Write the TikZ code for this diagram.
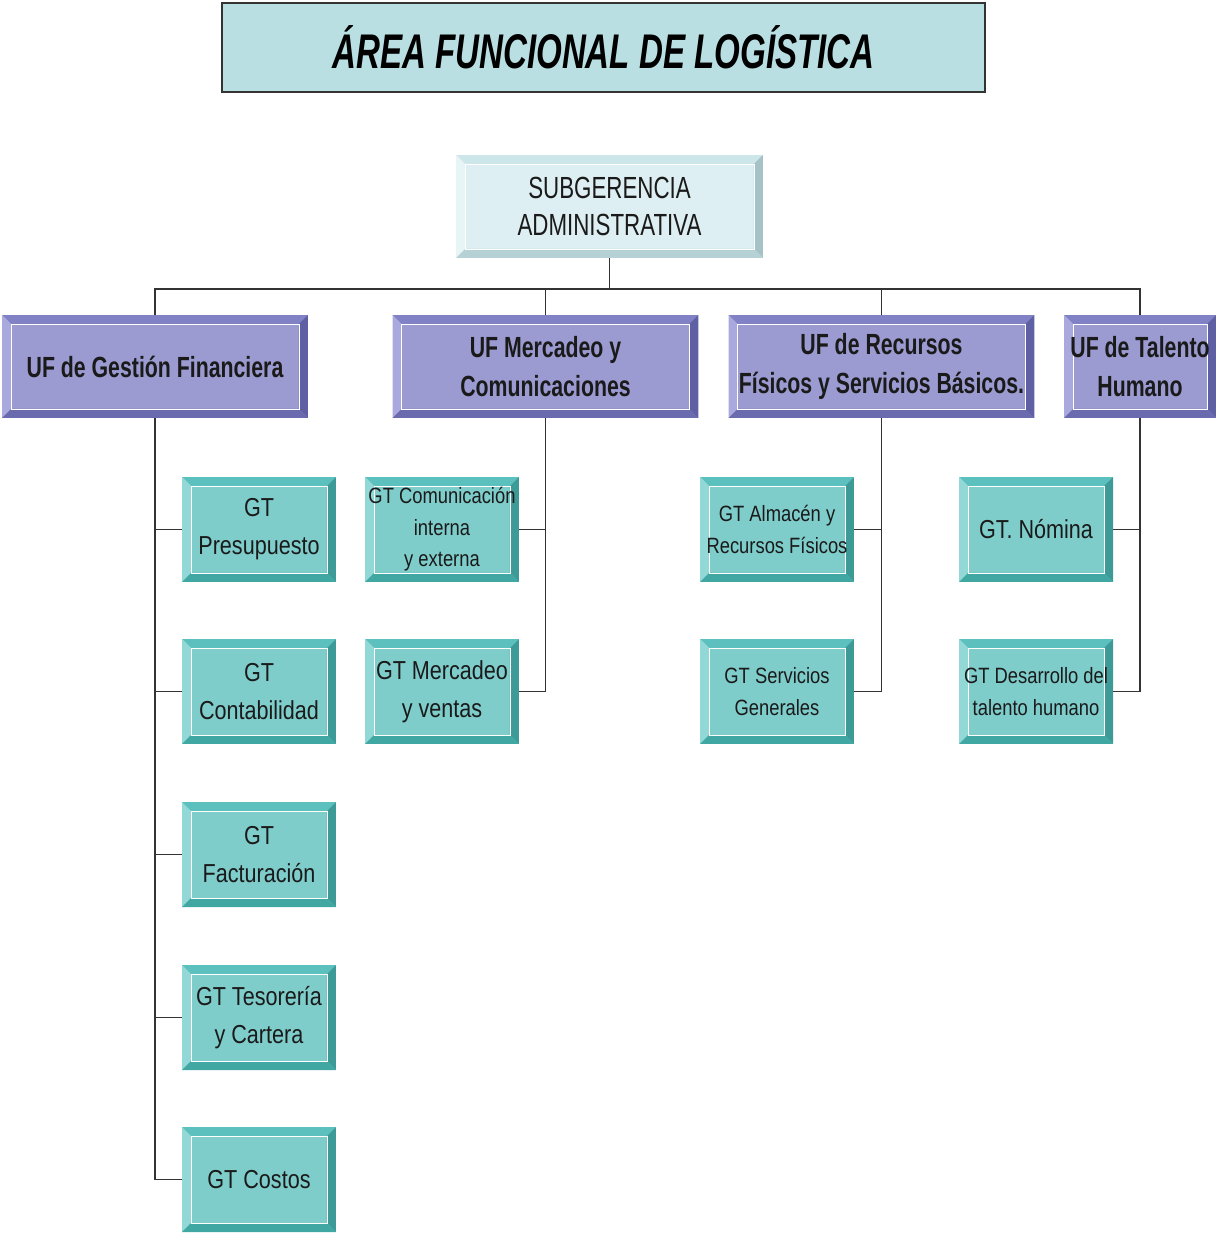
\documentclass[tikz,border=0pt]{standalone}
\usepackage{fontspec}
\setmainfont{Liberation Sans}
\newfontfamily\gtfont{Liberation Sans}[FakeStretch=0.83]
\newfontfamily\uffont{Liberation Sans}[FakeStretch=0.73]
\newfontfamily\ttlfont{Liberation Sans}[FakeStretch=0.68]
\usepackage{tikz}
\usetikzlibrary{positioning,calc}

\definecolor{ttlfill}{HTML}{B9DFE3}
\definecolor{subface}{HTML}{DDEFF2}
\definecolor{subtop}{HTML}{CDE6EA}
\definecolor{subleft}{HTML}{E8F5F7}
\definecolor{subright}{HTML}{A5C2C6}
\definecolor{subbot}{HTML}{B5D1D5}
\definecolor{ufface}{HTML}{9B9BD2}
\definecolor{uftop}{HTML}{8181C6}
\definecolor{ufleft}{HTML}{A9A9DD}
\definecolor{ufright}{HTML}{5F5FA3}
\definecolor{ufbot}{HTML}{6A6AAF}
\definecolor{gtface}{HTML}{7ECDCB}
\definecolor{gttop}{HTML}{5CC0BE}
\definecolor{gtleft}{HTML}{92D8D6}
\definecolor{gtright}{HTML}{3E9A96}
\definecolor{gtbot}{HTML}{40A7A2}
\definecolor{linecol}{HTML}{333333}
\definecolor{txtcol}{HTML}{1A1A1A}

\begin{document}
\begin{tikzpicture}[x=0.02cm, y=-0.02cm,
    bevel/.style n args={5}{fill=#1, draw=none, inner sep=0pt, align=center, text=txtcol,
      path picture={
        \path (path picture bounding box.north west) coordinate (bNW)
              (path picture bounding box.north east) coordinate (bNE)
              (path picture bounding box.south east) coordinate (bSE)
              (path picture bounding box.south west) coordinate (bSW);
        \path ([shift={(0.18cm,-0.18cm)}]bNW) coordinate (iNW)
              ([shift={(-0.18cm,-0.18cm)}]bNE) coordinate (iNE)
              ([shift={(-0.18cm,0.18cm)}]bSE) coordinate (iSE)
              ([shift={(0.18cm,0.18cm)}]bSW) coordinate (iSW);
        \fill[#2] (bNW) -- (bNE) -- (iNE) -- (iNW) -- cycle;
        \fill[#3] (bNW) -- (iNW) -- (iSW) -- (bSW) -- cycle;
        \fill[#4] (bNE) -- (bSE) -- (iSE) -- (iNE) -- cycle;
        \fill[#5] (bSW) -- (iSW) -- (iSE) -- (bSE) -- cycle;
        \draw[white, line width=0.5pt] (iNW) rectangle (iSE);
      }},
    subbox/.style={bevel={subface}{subtop}{subleft}{subright}{subbot},
      minimum width=6.14cm, minimum height=2.06cm,
      font=\uffont\fontsize{17.4}{21.5}\selectfont},
    ufbox/.style={bevel={ufface}{uftop}{ufleft}{ufright}{ufbot},
      minimum width=6.12cm, minimum height=2.06cm,
      font=\uffont\bfseries\fontsize{16.6}{22}\selectfont},
    gtbox/.style={bevel={gtface}{gttop}{gtleft}{gtright}{gtbot},
      minimum width=3.08cm, minimum height=2.1cm,
      font=\gtfont\fontsize{14.8}{21.5}\selectfont},
    gtsmall/.style={gtbox, font=\gtfont\fontsize{12.6}{18}\selectfont},
    link/.style={draw=linecol, line width=1pt}]

  \useasboundingbox (0,0) rectangle (1215,1233);

  % title
  \node[draw=linecol, line width=1pt, fill=ttlfill, minimum width=15.26cm, minimum height=1.78cm,
        font=\ttlfont\bfseries\itshape\fontsize{27.7}{30}\selectfont] (title) at (603.5,47.5)
        {ÁREA FUNCIONAL DE LOGÍSTICA};

  % top of the chart
  \node[subbox] (sub) at (609.5,206.5) {SUBGERENCIA\\ADMINISTRATIVA};

  % functional units
  \node[ufbox] (ufgest) at (155,366.5) {UF de Gestión Financiera};
  \node[ufbox] (ufmerc) at (545.5,366.5) {UF Mercadeo y\\Comunicaciones};
  \node[ufbox] (ufrec) at (881.5,366.5) {UF de Recursos\\Físicos y Servicios Básicos.};
  \node[ufbox, minimum width=3.04cm] (uftal) at (1140,366.5) {UF de Talento\\Humano};

  % work groups
  \node[gtbox] (gtpres) at (259,529.5) {GT\\Presupuesto};
  \node[gtbox] (gtcont) at (259,691.5) {GT\\Contabilidad};
  \node[gtbox] (gtfact) at (259,854.5) {GT\\Facturación};
  \node[gtbox] (gtteso) at (259,1017.5) {GT Tesorería\\y Cartera};
  \node[gtbox] (gtcost) at (259,1179.5) {GT Costos};

  \node[gtsmall] (gtcom) at (442,529.5) {GT Comunicación\\interna\\y externa};
  \node[gtbox] (gtmerc) at (442,691.5) {GT Mercadeo\\y ventas};

  \node[gtsmall] (gtalm) at (777,529.5) {GT Almacén y\\Recursos Físicos};
  \node[gtsmall] (gtserv) at (777,691.5) {GT Servicios\\Generales};

  \node[gtbox] (gtnom) at (1036,529.5) {GT. Nómina};
  \node[gtsmall] (gtdes) at (1036,691.5) {GT Desarrollo del\\talento humano};

  % connectors
  \coordinate (bus) at (609.5,289);
  \draw[link] (sub.south) -- (bus);
  \draw[link] (ufgest.north) |- (bus) -| (uftal.north);
  \foreach \u in {ufmerc,ufrec}
    \draw[link] (\u.north) -- (\u.north |- bus);

  \foreach \g in {gtpres,gtcont,gtfact,gtteso,gtcost}
    \draw[link] (ufgest.south) |- (\g.west);
  \foreach \g in {gtcom,gtmerc}
    \draw[link] (ufmerc.south) |- (\g.east);
  \foreach \g in {gtalm,gtserv}
    \draw[link] (ufrec.south) |- (\g.east);
  \foreach \g in {gtnom,gtdes}
    \draw[link] (uftal.south) |- (\g.east);
\end{tikzpicture}
\end{document}
